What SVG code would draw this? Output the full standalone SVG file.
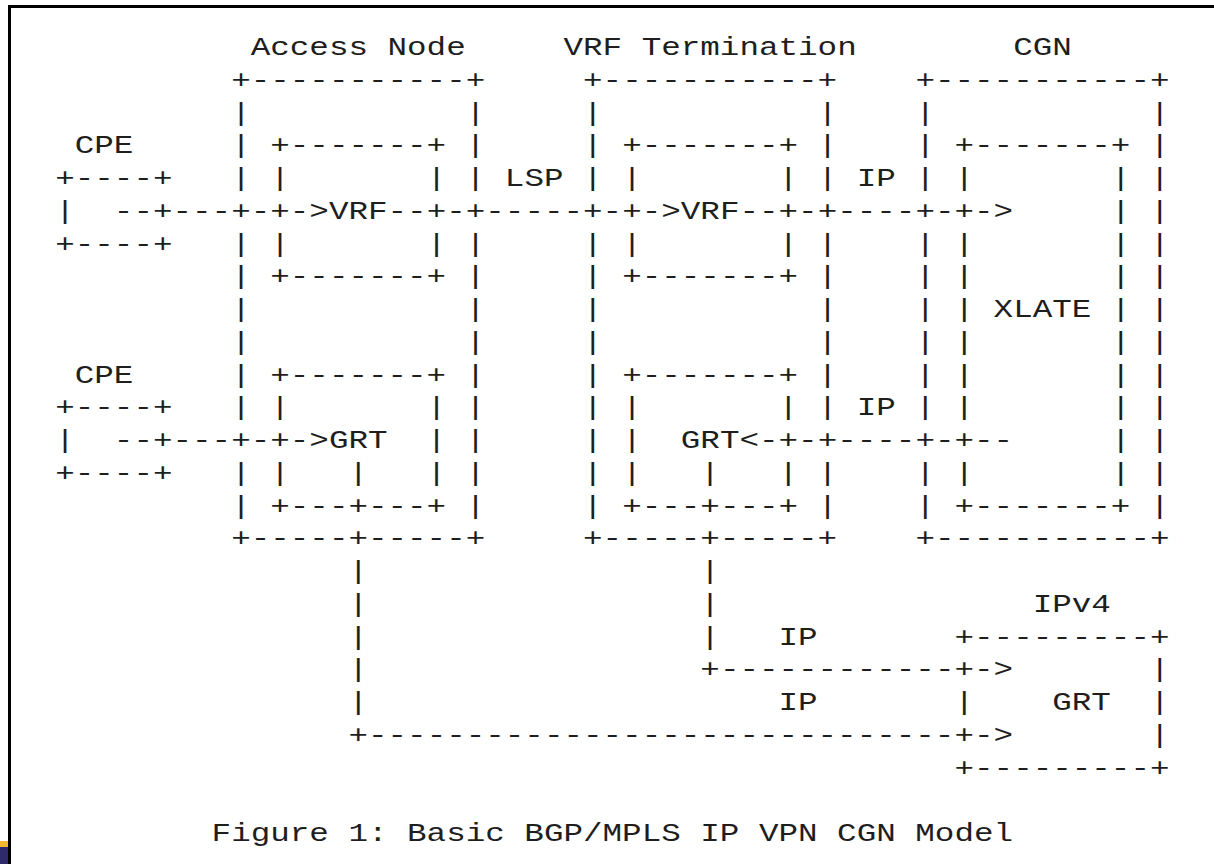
<svg xmlns="http://www.w3.org/2000/svg" width="1214" height="864" viewBox="0 0 1214 864">
  <style>
    .t { font-family: "Liberation Mono", "DejaVu Sans Mono", monospace; font-size: 25px; fill: #1e1e1e; }
    .frame { fill: none; stroke: #000; stroke-width: 3; }
  </style>
  <rect width="1214" height="864" fill="#ffffff"/>
  <!-- page frame -->
  <path class="frame" d="M9.5 864 V6.5 H1214"/>
  <rect x="0" y="841" width="8" height="6" fill="#f2b830"/>
  <rect x="0" y="847" width="8" height="17" fill="#2e2a6c"/>

  <!-- character grid: column c starts at x = 15c, row r baseline at y = 55.2 + 32.75r -->
  <g class="t" transform="matrix(1.30333 0 0 1 55.2 0)">

    <g id="cpe-1">
      <text x="15" y="153.45">CPE</text>
      <text x="0" y="186.2">+----+</text>
      <text x="0" y="218.95">|</text><text x="75" y="218.95">+</text>
      <text x="0" y="251.7">+----+</text>
    </g>

    <g id="cpe-2">
      <text x="15" y="382.7">CPE</text>
      <text x="0" y="415.45">+----+</text>
      <text x="0" y="448.2">|</text><text x="75" y="448.2">+</text>
      <text x="0" y="480.95">+----+</text>
    </g>

    <g id="access-node">
      <text x="150" y="55.2">Access Node</text>
      <text x="135" y="87.95">+-----------+</text>
      <text x="135" y="120.7">|</text><text x="315" y="120.7">|</text>
      <text x="135" y="153.45">|</text><text x="315" y="153.45">|</text>
      <text x="135" y="186.2">|</text><text x="315" y="186.2">|</text>
      <text x="135" y="218.95">+</text><text x="315" y="218.95">+</text>
      <text x="135" y="251.7">|</text><text x="315" y="251.7">|</text>
      <text x="135" y="284.45">|</text><text x="315" y="284.45">|</text>
      <text x="135" y="317.2">|</text><text x="315" y="317.2">|</text>
      <text x="135" y="349.95">|</text><text x="315" y="349.95">|</text>
      <text x="135" y="382.7">|</text><text x="315" y="382.7">|</text>
      <text x="135" y="415.45">|</text><text x="315" y="415.45">|</text>
      <text x="135" y="448.2">+</text><text x="315" y="448.2">|</text>
      <text x="135" y="480.95">|</text><text x="315" y="480.95">|</text>
      <text x="135" y="513.7">|</text><text x="315" y="513.7">|</text>
      <text x="135" y="546.45">+-----+-----+</text>
      <g id="access-vrf">
        <text x="165" y="153.45">+-------+</text>
        <text x="165" y="186.2">|</text><text x="285" y="186.2">|</text>
        <text x="165" y="218.95">+</text><text x="285" y="218.95">+</text>
        <text x="165" y="251.7">|</text><text x="285" y="251.7">|</text>
        <text x="165" y="284.45">+-------+</text>
        <text x="210" y="218.95">VRF</text>
      </g>
      <g id="access-grt">
        <text x="165" y="382.7">+-------+</text>
        <text x="165" y="415.45">|</text><text x="285" y="415.45">|</text>
        <text x="165" y="448.2">+</text><text x="285" y="448.2">|</text>
        <text x="165" y="480.95">|</text><text x="285" y="480.95">|</text>
        <text x="165" y="513.7">+---+---+</text>
        <text x="210" y="448.2">GRT</text>
      </g>
    </g>

    <g id="vrf-termination">
      <text x="390" y="55.2">VRF Termination</text>
      <text x="405" y="87.95">+-----------+</text>
      <text x="405" y="120.7">|</text><text x="585" y="120.7">|</text>
      <text x="405" y="153.45">|</text><text x="585" y="153.45">|</text>
      <text x="405" y="186.2">|</text><text x="585" y="186.2">|</text>
      <text x="405" y="218.95">+</text><text x="585" y="218.95">+</text>
      <text x="405" y="251.7">|</text><text x="585" y="251.7">|</text>
      <text x="405" y="284.45">|</text><text x="585" y="284.45">|</text>
      <text x="405" y="317.2">|</text><text x="585" y="317.2">|</text>
      <text x="405" y="349.95">|</text><text x="585" y="349.95">|</text>
      <text x="405" y="382.7">|</text><text x="585" y="382.7">|</text>
      <text x="405" y="415.45">|</text><text x="585" y="415.45">|</text>
      <text x="405" y="448.2">|</text><text x="585" y="448.2">+</text>
      <text x="405" y="480.95">|</text><text x="585" y="480.95">|</text>
      <text x="405" y="513.7">|</text><text x="585" y="513.7">|</text>
      <text x="405" y="546.45">+-----+-----+</text>
      <g id="vt-vrf">
        <text x="435" y="153.45">+-------+</text>
        <text x="435" y="186.2">|</text><text x="555" y="186.2">|</text>
        <text x="435" y="218.95">+</text><text x="555" y="218.95">+</text>
        <text x="435" y="251.7">|</text><text x="555" y="251.7">|</text>
        <text x="435" y="284.45">+-------+</text>
        <text x="480" y="218.95">VRF</text>
      </g>
      <g id="vt-grt">
        <text x="435" y="382.7">+-------+</text>
        <text x="435" y="415.45">|</text><text x="555" y="415.45">|</text>
        <text x="435" y="448.2">|</text><text x="555" y="448.2">+</text>
        <text x="435" y="480.95">|</text><text x="555" y="480.95">|</text>
        <text x="435" y="513.7">+---+---+</text>
        <text x="480" y="448.2">GRT</text>
      </g>
    </g>

    <g id="cgn">
      <text x="735" y="55.2">CGN</text>
      <text x="660" y="87.95">+-----------+</text>
      <text x="660" y="120.7">|</text><text x="840" y="120.7">|</text>
      <text x="660" y="153.45">|</text><text x="840" y="153.45">|</text>
      <text x="660" y="186.2">|</text><text x="840" y="186.2">|</text>
      <text x="660" y="218.95">+</text><text x="840" y="218.95">|</text>
      <text x="660" y="251.7">|</text><text x="840" y="251.7">|</text>
      <text x="660" y="284.45">|</text><text x="840" y="284.45">|</text>
      <text x="660" y="317.2">|</text><text x="840" y="317.2">|</text>
      <text x="660" y="349.95">|</text><text x="840" y="349.95">|</text>
      <text x="660" y="382.7">|</text><text x="840" y="382.7">|</text>
      <text x="660" y="415.45">|</text><text x="840" y="415.45">|</text>
      <text x="660" y="448.2">+</text><text x="840" y="448.2">|</text>
      <text x="660" y="480.95">|</text><text x="840" y="480.95">|</text>
      <text x="660" y="513.7">|</text><text x="840" y="513.7">|</text>
      <text x="660" y="546.45">+-----------+</text>
      <g id="cgn-xlate">
        <text x="690" y="153.45">+-------+</text>
        <text x="690" y="186.2">|</text><text x="810" y="186.2">|</text>
        <text x="690" y="218.95">+</text><text x="810" y="218.95">|</text>
        <text x="690" y="251.7">|</text><text x="810" y="251.7">|</text>
        <text x="690" y="284.45">|</text><text x="810" y="284.45">|</text>
        <text x="690" y="317.2">|</text><text x="810" y="317.2">|</text>
        <text x="690" y="349.95">|</text><text x="810" y="349.95">|</text>
        <text x="690" y="382.7">|</text><text x="810" y="382.7">|</text>
        <text x="690" y="415.45">|</text><text x="810" y="415.45">|</text>
        <text x="690" y="448.2">+</text><text x="810" y="448.2">|</text>
        <text x="690" y="480.95">|</text><text x="810" y="480.95">|</text>
        <text x="690" y="513.7">+-------+</text>
        <text x="720" y="317.2">XLATE</text>
      </g>
    </g>

    <g id="ipv4-grt">
      <text x="750" y="611.95">IPv4</text>
      <text x="690" y="644.7">+---------+</text>
      <text x="690" y="677.45">+</text><text x="840" y="677.45">|</text>
      <text x="690" y="710.2">|</text><text x="840" y="710.2">|</text>
      <text x="690" y="742.95">+</text><text x="840" y="742.95">|</text>
      <text x="690" y="775.7">+---------+</text>
      <text x="765" y="710.2">GRT</text>
    </g>

    <g id="connectors">
      <!-- CPE to Access Node VRF -->
      <text x="45" y="218.95">--</text><text x="90" y="218.95">---</text><text x="150" y="218.95">-</text><text x="180" y="218.95">-&gt;</text>
      <!-- Access Node VRF to VRF Termination VRF over the LSP -->
      <text x="345" y="186.2">LSP</text>
      <text x="255" y="218.95">--</text><text x="300" y="218.95">-</text><text x="330" y="218.95">-----</text><text x="420" y="218.95">-</text><text x="450" y="218.95">-&gt;</text>
      <!-- VRF Termination VRF to CGN -->
      <text x="615" y="186.2">IP</text>
      <text x="525" y="218.95">--</text><text x="570" y="218.95">-</text><text x="600" y="218.95">----</text><text x="675" y="218.95">-</text><text x="705" y="218.95">-&gt;</text>
      <!-- CPE to Access Node GRT -->
      <text x="45" y="448.2">--</text><text x="90" y="448.2">---</text><text x="150" y="448.2">-</text><text x="180" y="448.2">-&gt;</text>
      <!-- CGN back to VRF Termination GRT -->
      <text x="615" y="415.45">IP</text>
      <text x="525" y="448.2">&lt;-</text><text x="570" y="448.2">-</text><text x="600" y="448.2">----</text><text x="675" y="448.2">-</text><text x="705" y="448.2">--</text>
      <!-- VRF Termination GRT down to IPv4 GRT -->
      <text x="495" y="480.95">|</text>
      <text x="495" y="579.2">|</text>
      <text x="495" y="611.95">|</text>
      <text x="495" y="644.7">|</text>
      <text x="555" y="644.7">IP</text>
      <text x="495" y="677.45">+------------</text><text x="705" y="677.45">-&gt;</text>
      <!-- Access Node GRT down to IPv4 GRT -->
      <text x="225" y="480.95">|</text>
      <text x="225" y="579.2">|</text>
      <text x="225" y="611.95">|</text>
      <text x="225" y="644.7">|</text>
      <text x="225" y="677.45">|</text>
      <text x="225" y="710.2">|</text>
      <text x="555" y="710.2">IP</text>
      <text x="225" y="742.95">+------------------------------</text><text x="705" y="742.95">-&gt;</text>
    </g>

    <text id="caption" x="120" y="841.2">Figure 1: Basic BGP/MPLS IP VPN CGN Model</text>
  </g>
</svg>
